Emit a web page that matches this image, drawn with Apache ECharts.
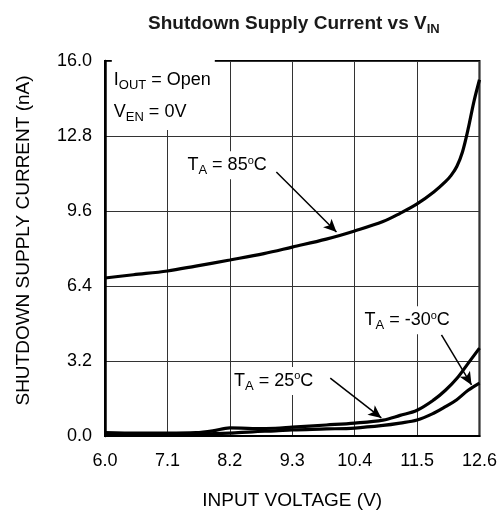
<!DOCTYPE html>
<html>
<head>
<meta charset="utf-8">
<script src="https://cdn.jsdelivr.net/npm/echarts@6/dist/echarts.min.js"></script>
<style>html,body{margin:0;padding:0;background:#fff}#c{width:500px;height:515px}</style>
</head>
<body>
<div id="c"></div>
<script>
// ---- data ----
var xTicks = [6.0, 7.1, 8.2, 9.3, 10.4, 11.5, 12.6];
var yTicks = [0.0, 3.2, 6.4, 9.6, 12.8, 16.0];

var voltage85 = [6.0, 6.5, 7.1, 7.6, 8.2, 8.8, 9.3, 9.9, 10.4, 10.9, 11.2, 11.5, 11.8, 12.0, 12.1, 12.2, 12.3, 12.4, 12.5, 12.6];
var current85 = [6.74, 6.88, 7.04, 7.25, 7.51, 7.78, 8.06, 8.40, 8.75, 9.15, 9.50, 9.90, 10.42, 10.85, 11.12, 11.50, 12.12, 13.10, 14.25, 15.20];

var voltage25 = [6.0, 6.6, 7.1, 7.6, 7.9, 8.2, 8.6, 9.0, 9.3, 9.9, 10.4, 10.9, 11.2, 11.5, 11.8, 12.0, 12.2, 12.4, 12.6];
var current25 = [0.15, 0.12, 0.12, 0.14, 0.22, 0.35, 0.32, 0.33, 0.38, 0.47, 0.55, 0.68, 0.88, 1.10, 1.55, 1.95, 2.45, 3.10, 3.75];

var voltage30 = [6.0, 6.6, 7.1, 7.6, 8.2, 8.6, 9.0, 9.3, 9.9, 10.4, 10.9, 11.2, 11.5, 11.8, 12.0, 12.2, 12.4, 12.6];
var current30 = [0.08, 0.06, 0.05, 0.07, 0.12, 0.18, 0.22, 0.26, 0.30, 0.34, 0.45, 0.55, 0.68, 0.98, 1.25, 1.55, 1.95, 2.26];

// annotations (data coordinates: volts, nA)
var arrow85 = [[9.02, 11.26], [10.08, 8.70]];
var arrow25 = [[9.97, 2.47], [10.87, 0.77]];
var arrow30 = [[11.93, 4.31], [12.46, 2.18]];

var X0 = 6.0; // axis origin offset so ticks start from a multiple of the interval
function toX(v) { return Math.round((v - X0) * 10 * 1000) / 1000; }
function pairs(xs, ys) { return xs.map(function (x, i) { return [toX(x), ys[i]]; }); }
function pt(p) { return { coord: [toX(p[0]), p[1]] }; }

var FF = 'Liberation Sans';
var rich = {
  m: { fontSize: 18, fontFamily: FF, color: '#000' },
  s: { fontSize: 13, fontFamily: FF, color: '#000', padding: [11, 0, 0, 0] },
  o: { fontSize: 11, fontFamily: FF, color: '#000', padding: [0, 0, 9, 0] }
};

function textMark(x, y, str, extra) {
  return {
    coord: [toX(x), y], symbol: 'rect', symbolSize: 0,
    label: Object.assign({
      show: true, position: 'right', distance: 0, formatter: str, rich: rich,
      backgroundColor: '#fff', padding: [2, 3, 2, 3]
    }, extra || {})
  };
}

var chart = echarts.init(document.getElementById('c'), null, { renderer: 'canvas' });
var lineStyle = { color: '#000', width: 3.2 };

chart.setOption({
  animation: false,
  backgroundColor: '#fff',
  title: {
    text: '{a|Shutdown Supply Current vs V}{b|IN}',
    left: 143, top: 7,
    textStyle: {
      rich: {
        a: { fontSize: 19, fontWeight: 'bold', fontFamily: FF, color: '#1a1a1a' },
        b: { fontSize: 13, fontWeight: 'bold', fontFamily: FF, color: '#1a1a1a', padding: [11, 0, 0, 0] }
      }
    }
  },
  grid: { left: 105, right: 18, top: 61, bottom: 79, show: true, borderColor: '#000', borderWidth: 2, backgroundColor: 'transparent' },
  xAxis: {
    type: 'value', min: toX(xTicks[0]), max: toX(xTicks[xTicks.length - 1]), interval: toX(xTicks[1]),
    name: 'INPUT VOLTAGE (V)', nameLocation: 'middle', nameGap: 55,
    nameTextStyle: { fontSize: 19, fontFamily: FF, color: '#000' },
    axisLine: { show: true, lineStyle: { color: '#000', width: 2 } },
    axisTick: { show: false },
    axisLabel: { fontSize: 18, fontFamily: FF, color: '#000', margin: 16,
      formatter: function (v) { return (v / 10 + X0).toFixed(1); } },
    splitLine: { show: true, lineStyle: { color: '#333', width: 1 } }
  },
  yAxis: {
    type: 'value', min: yTicks[0], max: yTicks[yTicks.length - 1], interval: yTicks[1] - yTicks[0],
    name: 'SHUTDOWN SUPPLY CURRENT (nA)', nameLocation: 'middle', nameGap: 72,
    nameTextStyle: { fontSize: 19, fontFamily: FF, color: '#000', padding: [0, 0, 0, 16] },
    axisLine: { show: true, lineStyle: { color: '#000', width: 2.5 } },
    axisTick: { show: false },
    axisLabel: { fontSize: 18, fontFamily: FF, color: '#000', margin: 13,
      formatter: function (v) { return v.toFixed(1); } },
    splitLine: { show: true, lineStyle: { color: '#333', width: 1 } }
  },
  series: [
    {
      type: 'line', name: '85C', data: pairs(voltage85, current85), smooth: 0.35, showSymbol: false,
      lineStyle: lineStyle, z: 3,
      markLine: {
        silent: true, symbol: ['none', 'arrow'], symbolSize: [9, 13],
        lineStyle: { color: '#000', width: 1.5, type: 'solid' }, label: { show: false },
        data: [[pt(arrow85[0]), pt(arrow85[1])], [pt(arrow25[0]), pt(arrow25[1])], [pt(arrow30[0]), pt(arrow30[1])]]
      },
      markPoint: {
        silent: true,
        data: [
          textMark(6.12, 14.55, '{m|I}{s|OUT}{m| = Open}\n{m|V}{s|EN}{m| = 0V}', { lineHeight: 32, padding: [4, 4, 2, 2] }),
          textMark(7.40, 11.55, '{m|T}{s|A}{m| = 85}{o|o}{m|C}'),
          textMark(10.52, 4.94, '{m|T}{s|A}{m| = -30}{o|o}{m|C}'),
          textMark(8.22, 2.35, '{m|T}{s|A}{m| = 25}{o|o}{m|C}')
        ]
      }
    },
    {
      type: 'line', name: '25C', data: pairs(voltage25, current25), smooth: 0.35, showSymbol: false,
      lineStyle: lineStyle, z: 3
    },
    {
      type: 'line', name: '-30C', data: pairs(voltage30, current30), smooth: 0.35, showSymbol: false,
      lineStyle: lineStyle, z: 3
    }
  ]
});
</script>
</body>
</html>
